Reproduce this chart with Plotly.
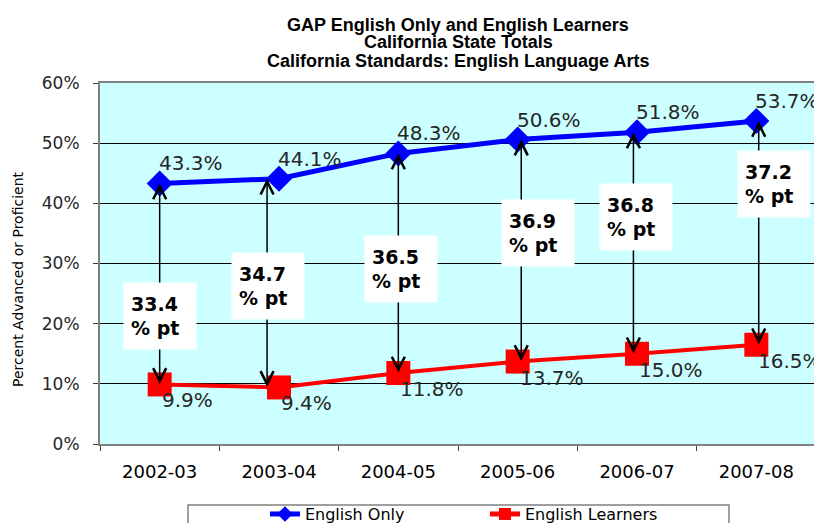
import plotly.graph_objects as go

# ---- data ----
years = ["2002-03", "2003-04", "2004-05", "2005-06", "2006-07", "2007-08"]
english_only = [43.3, 44.1, 48.3, 50.6, 51.8, 53.7]
english_learners = [9.9, 9.4, 11.8, 13.7, 15.0, 16.5]
gaps = [33.4, 34.7, 36.5, 36.9, 36.8, 37.2]
title_lines = ["GAP English Only and English Learners",
               "California State Totals",
               "California Standards: English Language Arts"]

# ---- styling / placement constants ----
FONT = "DejaVu Sans"
ARROW_DX = [0.0, -0.1, 0.0, 0.03, -0.03, 0.02]
BOX_DX = [0.0, -0.09, 0.02, 0.17, -0.01, 0.15]
BOX_Y = [21.2, 26.3, 29.1, 35.1, 37.7, 43.2]

fig = go.Figure()
fig.add_trace(go.Scatter(
    x=years, y=english_only, name="English Only", mode="lines+markers",
    line=dict(color="#0000FF", width=5),
    marker=dict(symbol="diamond", size=20, color="#0000FF"),
))
fig.add_trace(go.Scatter(
    x=years, y=english_learners, name="English Learners", mode="lines+markers",
    line=dict(color="#FF0000", width=4),
    marker=dict(symbol="square", size=24, color="#FF0000"),
))

ann = []
# title lines
for i, (t, sh) in enumerate(zip(title_lines, [58, 41, 22])):
    ann.append(dict(text="<b>%s</b>" % t, xref="paper", yref="paper", x=0.5, y=1,
                    yshift=sh, xanchor="center", yanchor="middle", showarrow=False,
                    font=dict(family="Liberation Sans", size=18, color="black")))
# y-axis title
ann.append(dict(text="Percent Advanced or Proficient", xref="paper", yref="paper",
                x=-0.1145, y=0.457, textangle=-90, showarrow=False,
                xanchor="center", yanchor="middle",
                font=dict(family=FONT, size=14, color="black")))
# double arrows
for i in range(len(years)):
    xi = i + ARROW_DX[i]
    ann.append(dict(x=xi, y=english_only[i], ax=xi, ay=english_learners[i],
                    xref="x", yref="y", axref="x", ayref="y", text="",
                    showarrow=True, arrowhead=5, startarrowhead=5,
                    arrowside="end+start", arrowsize=1.7, startarrowsize=1.7,
                    arrowwidth=1.5, arrowcolor="black", borderpad=0, standoff=0,
                    startstandoff=0))
# gap boxes
for i, g in enumerate(gaps):
    ann.append(dict(x=i + BOX_DX[i], y=BOX_Y[i], xref="x", yref="y",
                    text="<b>%.1f<br>%% pt</b>" % g, showarrow=False, align="left",
                    bgcolor="white", borderpad=7, width=58, height=52,
                    xanchor="center", yanchor="middle",
                    font=dict(family=FONT, size=19, color="black")))
# value labels
for i, v in enumerate(english_only):
    ann.append(dict(x=i, y=v, xref="x", yref="y", text="%.1f%%" % v,
                    showarrow=False, xanchor="left", yanchor="middle",
                    xshift=-3, yshift=20,
                    font=dict(family=FONT, size=20, color="#262626")))
for i, v in enumerate(english_learners):
    ann.append(dict(x=i, y=v, xref="x", yref="y", text="%.1f%%" % v,
                    showarrow=False, xanchor="left", yanchor="middle",
                    xshift=0, yshift=-16,
                    font=dict(family=FONT, size=20, color="#262626")))

fig.update_layout(
    width=814, height=515,
    margin=dict(l=92, r=6, t=75, b=79, autoexpand=False),
    paper_bgcolor="white", plot_bgcolor="#CCFFFF",
    annotations=ann,
    showlegend=True,
    legend=dict(orientation="h", x=0.2304, xanchor="left", y=-0.147, yanchor="top",
                entrywidth=175, itemsizing="constant", bgcolor="rgba(0,0,0,0)",
                font=dict(family=FONT, size=16, color="black")),
    shapes=[dict(type="rect", xref="paper", yref="paper", x0=0.1229, x1=0.8785,
                 y0=-0.169, y1=-0.35, line=dict(color="#808080", width=1.5))],
    xaxis=dict(type="category", range=[-0.5, 5.5], showgrid=False,
               showline=True, mirror=True, linecolor="#808080", linewidth=2,
               ticks="outside", tickson="boundaries", ticklen=5, tickcolor="#404040",
               ticklabelstandoff=10,
               tickfont=dict(family=FONT, size=18, color="black")),
    yaxis=dict(range=[0, 60], dtick=10, ticksuffix="%", showgrid=True,
               gridcolor="black", gridwidth=1, zeroline=False,
               showline=True, mirror=True, linecolor="#808080", linewidth=2,
               ticks="outside", ticklen=5, tickcolor="#404040",
               ticklabelstandoff=10,
               tickfont=dict(family=FONT, size=17, color="#262626")),
)

fig.write_html("out.html")
